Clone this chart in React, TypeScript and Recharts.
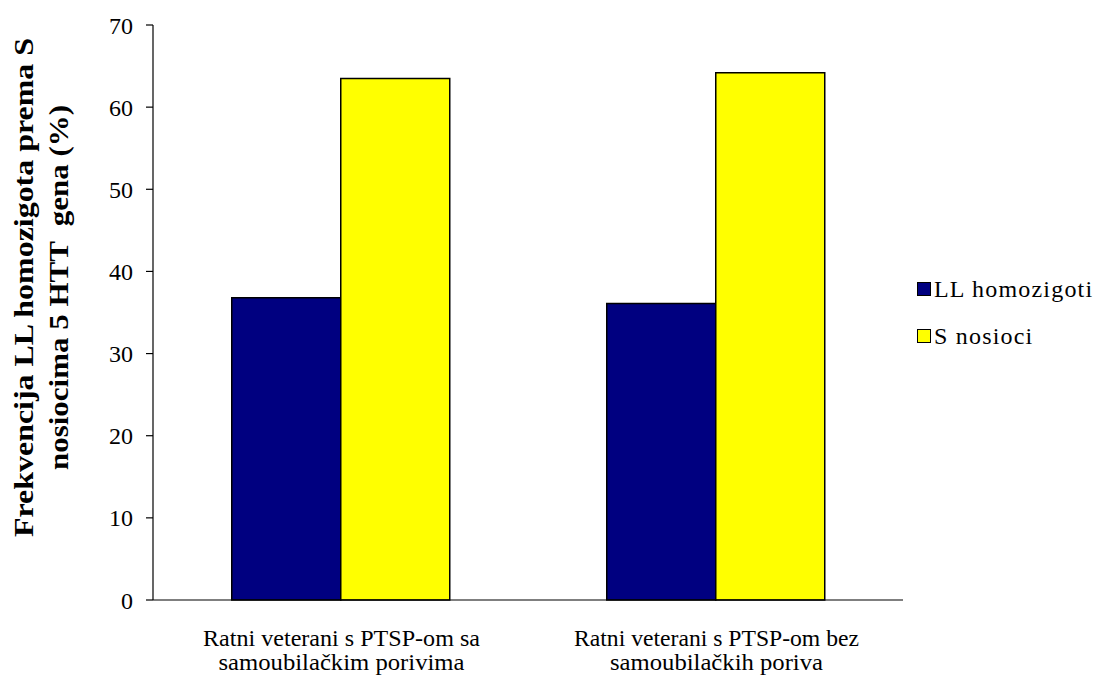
import React from 'react';
import { BarChart, Bar, XAxis, YAxis } from 'recharts';

const categoryLine1 = ['Ratni veterani s PTSP-om sa', 'Ratni veterani s PTSP-om bez'];
const categoryLine2 = ['samoubilačkim porivima', 'samoubilačkih poriva'];
const llHomozigoti = [36.8, 36.1];
const sNosioci = [63.5, 64.2];
const yTicks = [0, 10, 20, 30, 40, 50, 60, 70];
const seriesNames = ['LL homozigoti', 'S nosioci'];
const seriesColors = ['#000080', '#FFFF00'];
const titleLines = ['Frekvencija LL homozigota prema S', 'nosiocima 5 HTT  gena (%)'];

const data = categoryLine1.map((c, i) => ({
  name: c,
  ll: llHomozigoti[i],
  s: sNosioci[i],
}));

const FONT = "'Liberation Serif', 'Times New Roman', serif";

const line1Len = [277, 285];
const line2Len = [246, 213];

const CatTick = (props: any) => {
  const { x, y, payload } = props;
  const i = categoryLine1.indexOf(payload.value);
  const st = { fontFamily: FONT, fontSize: 23, fill: '#000' };
  return (
    <g>
      <text x={x + 1} y={y + 38} textAnchor="middle" style={st} textLength={line1Len[i]} lengthAdjust="spacingAndGlyphs">
        {categoryLine1[i]}
      </text>
      <text x={x + 1} y={y + 62} textAnchor="middle" style={st} textLength={line2Len[i]} lengthAdjust="spacingAndGlyphs">
        {categoryLine2[i]}
      </text>
    </g>
  );
};

const renderTitle = () => {
  const cy = 287.5;
  const st = { fontFamily: FONT, fontWeight: 'bold' as const, fontSize: 28, fill: '#000', whiteSpace: 'pre' as const };
  const x1 = 33;
  const x2 = 68;
  return (
    <g>
      <text
        x={x1}
        y={cy}
        transform={`rotate(-90 ${x1} ${cy})`}
        textAnchor="middle"
        style={st}
        textLength={499}
        lengthAdjust="spacingAndGlyphs"
      >
        {titleLines[0]}
      </text>
      <text
        x={x2}
        y={cy}
        transform={`rotate(-90 ${x2} ${cy})`}
        textAnchor="middle"
        style={st}
        textLength={365}
        lengthAdjust="spacingAndGlyphs"
      >
        {titleLines[1]}
      </text>
    </g>
  );
};

export default function App() {
  return (
    <div style={{ position: 'absolute', left: 0, top: 0, width: 1099, height: 675, background: '#fff' }}>
      <BarChart
        width={1099}
        height={675}
        data={data}
        margin={{ top: 25, right: 196, bottom: 0, left: 0 }}
        barGap={0}
        barCategoryGap="21%"
      >
        <XAxis
          xAxisId="grid"
          type="number"
          domain={[0, 2]}
          ticks={[0, 1, 2]}
          allowDataOverflow
          height={0}
          tick={false}
          tickLine={{ stroke: '#000', strokeWidth: 1 }}
          tickSize={7}
          axisLine={false}
        />
        <XAxis
          dataKey="name"
          height={75}
          tickLine={false}
          axisLine={{ stroke: '#000', strokeWidth: 1.2 }}
          tick={<CatTick />}
          interval={0}
        />
        <YAxis
          width={153}
          domain={[0, 70]}
          ticks={yTicks}
          interval={0}
          tickSize={7}
          tickMargin={13}
          tickLine={{ stroke: '#000', strokeWidth: 1.2 }}
          axisLine={{ stroke: '#000', strokeWidth: 1.2 }}
          tick={{ fill: '#000', fontFamily: FONT, fontSize: 24 }}
          label={renderTitle}
        />
        <Bar dataKey="ll" name={seriesNames[0]} fill={seriesColors[0]} stroke="#000" strokeWidth={1.5} isAnimationActive={false} />
        <Bar dataKey="s" name={seriesNames[1]} fill={seriesColors[1]} stroke="#000" strokeWidth={1.5} isAnimationActive={false} />
      </BarChart>
      <div style={{ position: 'absolute', left: 917, top: 270, fontFamily: FONT, fontSize: 24, color: '#000', lineHeight: '38px', letterSpacing: '1.2px' }}>
        {seriesNames.map((n, i) => (
          <div key={n} style={{ display: 'flex', alignItems: 'center', height: 38, marginBottom: 9 }}>
            <span
              style={{
                display: 'inline-block',
                boxSizing: 'border-box',
                width: 14,
                height: 14,
                background: seriesColors[i],
                border: '1.5px solid #000',
                marginRight: 3,
              }}
            />
            <span>{n}</span>
          </div>
        ))}
      </div>
    </div>
  );
}
